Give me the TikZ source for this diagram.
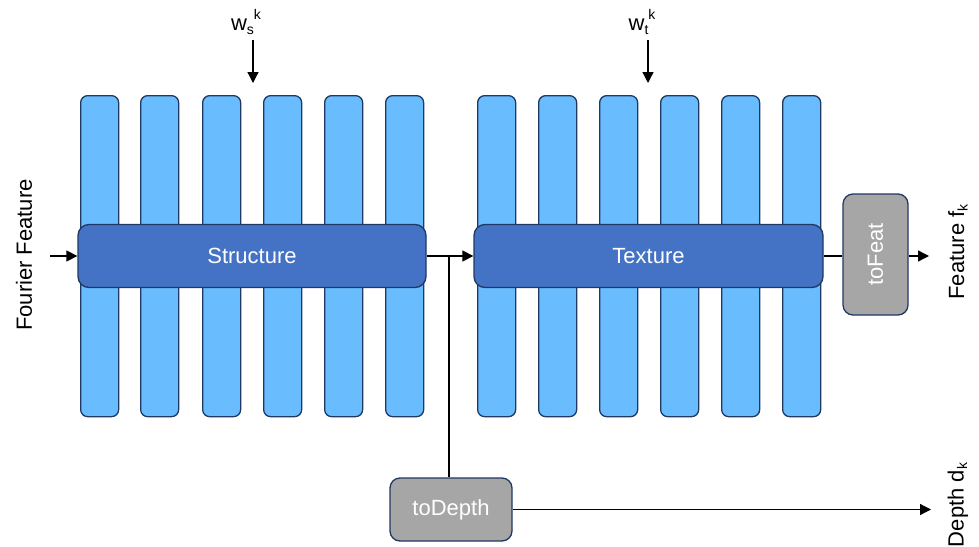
\documentclass[tikz,border=0pt]{standalone}
\usepackage{fontspec}
\setmainfont{Liberation Sans}
\usetikzlibrary{arrows.meta}
\definecolor{barblue}{HTML}{69BDFF}
\definecolor{boxblue}{HTML}{4472C4}
\definecolor{navy}{HTML}{1F3864}
\definecolor{grayfill}{HTML}{A6A6A6}
\begin{document}
\begin{tikzpicture}[x=1pt,y=-1pt,
  bar/.style={draw=navy,fill=barblue,line width=1.3pt,rounded corners=7pt,minimum width=38pt,minimum height=321pt,inner sep=0pt,anchor=north west},
  bigbox/.style={draw=navy,fill=boxblue,line width=1.3pt,rounded corners=11pt,minimum height=63pt,inner sep=0pt,text=white,font=\fontsize{22}{25}\selectfont},
  graybox/.style={draw=navy,fill=grayfill,line width=1.3pt,rounded corners=10pt,inner sep=0pt,text=white,font=\fontsize{22}{25}\selectfont},
  lbl/.style={font=\fontsize{22}{25}\selectfont,inner sep=0pt},
  arr/.style={line width=1.3pt,-{Triangle[length=11pt,width=11pt]}},
  ln/.style={line width=1.3pt}]
\useasboundingbox (0,0) rectangle (979,546);
% left bars
\foreach \i/\x in {1/80,2/140,3/202,4/263,5/324,6/385}{
  \node[bar] (b\i) at (\x,95) {};
}
% right bars
\foreach \i/\x in {7/477,8/538,9/599,10/660,11/721,12/782}{
  \node[bar] (b\i) at (\x,95) {};
}
\node[bigbox,minimum width=348pt] (struct) at (252,256) {Structure};
\node[bigbox,minimum width=349pt] (tex) at (648.5,256) {Texture};
\node[graybox,minimum width=65pt,minimum height=121pt] (tofeat) at (875.5,254.5) {\rotatebox{90}{toFeat}};
\node[graybox,minimum width=122pt,minimum height=63pt] (todepth) at (451,509.5) {toDepth};
% labels
\node[lbl,rotate=90] (ff) at (24,255) {Fourier Feature};
\node[lbl,rotate=90] (feat) at (958,252) {Feature f\raisebox{-0.3ex}{\fontsize{14}{16}\selectfont k}};
\node[lbl,rotate=90] (depth) at (958,505) {Depth d\raisebox{-0.3ex}{\fontsize{14}{16}\selectfont k}};
\node[lbl] (ws) at (246,22) {w\raisebox{-0.35ex}{\fontsize{14}{16}\selectfont s}\raisebox{1.0ex}{\fontsize{14}{16}\selectfont k}};
\node[lbl] (wt) at (642,22) {w\raisebox{-0.35ex}{\fontsize{14}{16}\selectfont t}\raisebox{1.0ex}{\fontsize{14}{16}\selectfont k}};
% coordinates
\coordinate (ffin) at (50,256);
\coordinate (wsin) at (253,40);
\coordinate (wsout) at (253,83);
\coordinate (wtin) at (648,40);
\coordinate (wtout) at (648,83);
\coordinate (branch) at (449,256);
\coordinate (featout) at (929,256);
\coordinate (depthout) at (931,509.5);
% connectors
\draw[arr] (ffin) -- (struct.west);
\draw[arr] (wsin) -- (wsout);
\draw[arr] (wtin) -- (wtout);
\draw[arr] (struct.east) -- (tex.west);
\draw[ln] (branch) -- (branch |- todepth.north);
\draw[ln] (tex.east) -- (tex.east -| tofeat.west);
\draw[arr] (tofeat.east |- featout) -- (featout);
\draw[arr] (todepth.east) -- (depthout);
\end{tikzpicture}
\end{document}
